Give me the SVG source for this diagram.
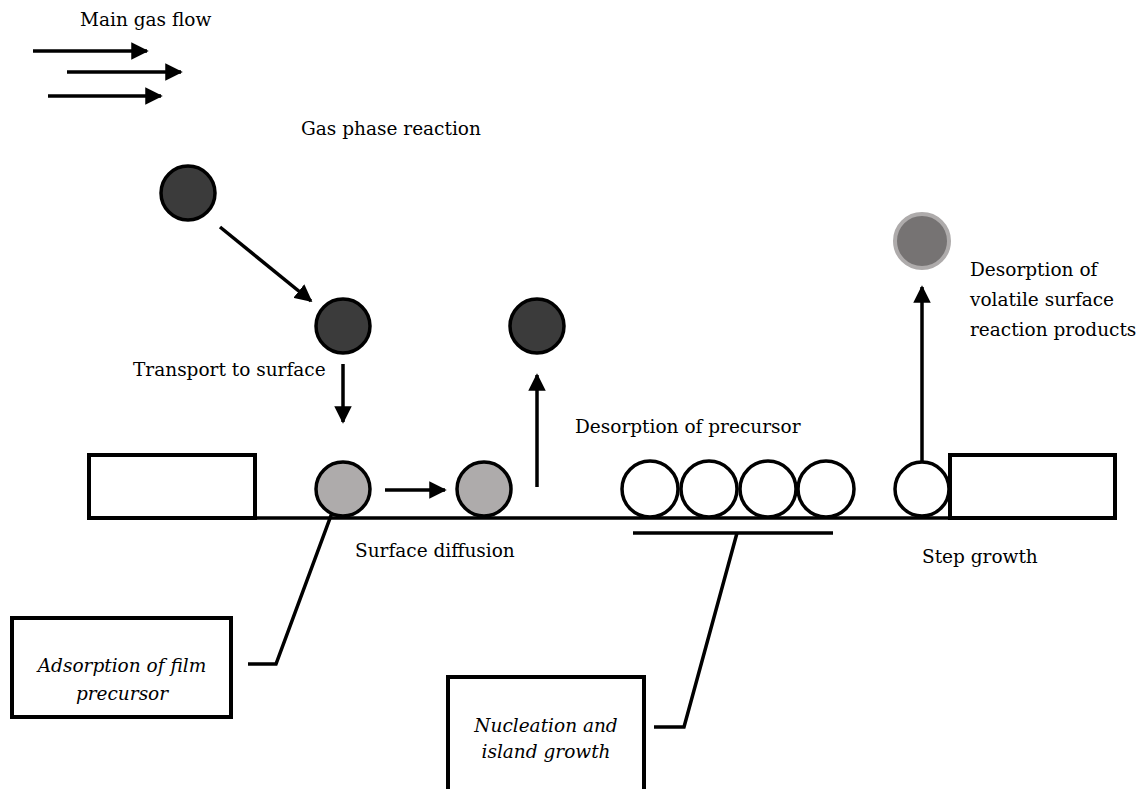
<svg xmlns="http://www.w3.org/2000/svg" width="1141" height="789" viewBox="0 0 1141 789">
<style>
text{font-family:'DejaVu Serif','Liberation Serif',serif;font-size:18.5px;fill:#000}
.i{font-style:italic;text-anchor:middle}
.ln{stroke:#000;stroke-width:3.5;fill:none}
.ar{stroke:#000;stroke-width:3.5;fill:none;marker-end:url(#ah)}
.dark{fill:#3b3b3b;stroke:#000;stroke-width:3.5}
.gray{fill:#aeabab;stroke:#000;stroke-width:3.5}
.white{fill:#fff;stroke:#000;stroke-width:3.5}
.box{fill:#fff;stroke:#000;stroke-width:4}
</style>
<defs>
<marker id="ah" markerWidth="5" markerHeight="5" refX="4.5" refY="2.5" orient="auto" markerUnits="strokeWidth">
<path d="M0,0 L5,2.5 L0,5 Z" fill="#000"/>
</marker>
</defs>
<rect width="1141" height="789" fill="#fff"/>
<g id="gasflow">
<text x="80" y="26">Main gas flow</text>
</g>
<g id="connectors">
<line class="ar" x1="33" y1="51" x2="147" y2="51"/>
<line class="ar" x1="67" y1="72" x2="181" y2="72"/>
<line class="ar" x1="48" y1="96" x2="161" y2="96"/>
<line class="ar" x1="220" y1="227" x2="311" y2="301"/>
<line class="ar" x1="343" y1="364" x2="343" y2="422"/>
<line class="ar" x1="385" y1="490" x2="445" y2="490"/>
<line class="ar" x1="537" y1="487" x2="537" y2="375"/>
<line class="ar" x1="922" y1="463" x2="922" y2="287"/>
<line class="ln" x1="633" y1="533" x2="833" y2="533"/>
<polyline class="ln" points="654,727 684,727 737,533"/>
<polyline class="ln" points="248,664 276,664 336,502"/>
</g>
<g id="substrate">
<line class="ln" x1="87" y1="518" x2="1117" y2="518" stroke-width="4"/>
<rect class="box" x="89" y="455" width="166" height="63"/>
<rect class="box" x="950" y="455" width="165" height="63"/>
</g>
<g id="gas-molecule-1"><circle class="dark" cx="188" cy="193" r="27"/></g>
<g id="gas-molecule-2"><circle class="dark" cx="343" cy="326" r="27"/></g>
<g id="desorbed-molecule"><circle class="dark" cx="537" cy="326" r="27"/></g>
<g id="product-molecule"><circle cx="922" cy="241" r="27" fill="#767373" stroke="#aeabab" stroke-width="4"/></g>
<g id="adsorbed-1"><circle class="gray" cx="343" cy="489" r="27"/></g>
<g id="adsorbed-2"><circle class="gray" cx="484" cy="489" r="27"/></g>
<g id="island">
<circle class="white" cx="650" cy="489" r="28"/>
<circle class="white" cx="709" cy="489" r="28"/>
<circle class="white" cx="768" cy="489" r="28"/>
<circle class="white" cx="826" cy="489" r="28"/>
</g>
<g id="step-atom"><circle class="white" cx="922" cy="489" r="27"/></g>
<g id="labels">
<text x="301" y="135">Gas phase reaction</text>
<text x="133" y="376">Transport to surface</text>
<text x="575" y="433">Desorption of precursor</text>
<text x="355" y="557">Surface diffusion</text>
<text x="922" y="563">Step growth</text>
<text x="970" y="276">Desorption of</text>
<text x="970" y="306">volatile surface</text>
<text x="970" y="336">reaction products</text>
</g>
<g id="adsorption-box">
<rect class="box" x="12" y="618" width="219" height="99"/>
<text class="i" x="122" y="672">Adsorption of film</text>
<text class="i" x="122" y="700">precursor</text>
</g>
<g id="nucleation-box">
<rect class="box" x="448" y="677" width="196" height="118"/>
<text class="i" x="546" y="732">Nucleation and</text>
<text class="i" x="546" y="758">island growth</text>
</g>
</svg>
